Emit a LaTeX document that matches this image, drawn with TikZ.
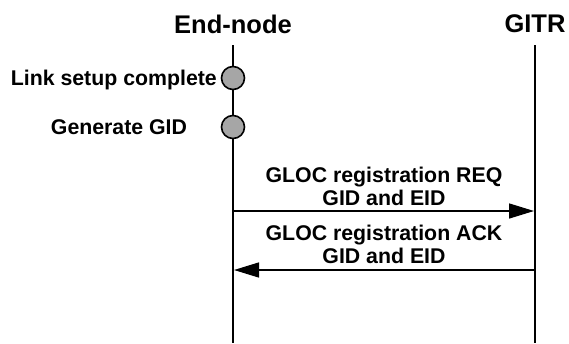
\documentclass[tikz,border=0pt]{standalone}
\usepackage{fontspec}
\setmainfont{Liberation Sans}
\usetikzlibrary{arrows.meta}
\begin{document}
\begin{tikzpicture}[x=1pt,y=-1pt,
  titlefont/.style={font=\fontsize{25.5}{30}\selectfont\bfseries, inner sep=0pt},
  lbl/.style={font=\fontsize{21.3}{23}\selectfont\bfseries, inner sep=0pt},
  life/.style={line width=2.2pt},
  evt/.style={circle, draw, line width=1.6pt, fill=black!35, minimum size=23pt, inner sep=0pt},
  msg/.style={line width=1.5pt, -{Triangle[length=25pt,width=15pt]}}]
\useasboundingbox (0,0) rectangle (569,343);
\node[titlefont] (en) at (233,24) {End-node};
\node[titlefont] (gitr) at (535,24) {GITR};
\coordinate (enTop) at (233,45);
\coordinate (enBot) at (233,343);
\coordinate (gTop) at (535,45);
\coordinate (gBot) at (535,343);
\draw[life] (enTop) -- (enBot);
\draw[life] (gTop) -- (gBot);
\node[evt] (e1) at (233,78) {};
\node[evt] (e2) at (233,127) {};
\node[lbl, anchor=east] (l1) at (217,80) {Link setup complete};
\node[lbl] (l2) at (119,127) {Generate GID};
\coordinate (r1) at (233,211);
\coordinate (r2) at (534,211);
\coordinate (k1) at (535,270);
\coordinate (k2) at (234,270);
\draw[msg] (r1) -- (r2);
\draw[msg] (k1) -- (k2);
\node[lbl, align=center] (req) at (384,186) {GLOC registration REQ\\GID and EID};
\node[lbl, align=center] (ack) at (384,244.5) {GLOC registration ACK\\GID and EID};
\end{tikzpicture}
\end{document}
